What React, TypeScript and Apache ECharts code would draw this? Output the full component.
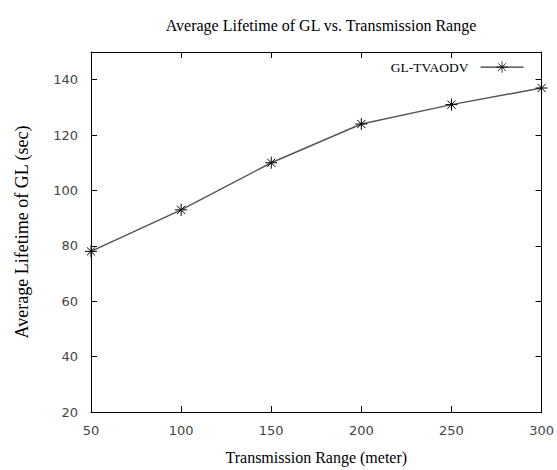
import React, { useEffect, useRef } from "react";
import * as echarts from "echarts";

const ranges = [50, 100, 150, 200, 250, 300];
const lifetimes = [78, 93, 110, 124, 131, 137];
const seriesName = "GL-TVAODV";
const titleText = "Average Lifetime of GL vs. Transmission Range";
const xName = "Transmission Range (meter)";
const yName = "Average Lifetime of GL (sec)";

const STAR = "path://M0,5L10,5M5,0L5,10M1.6,1.6L8.4,8.4M8.4,1.6L1.6,8.4";

export default function App() {
  const ref = useRef<HTMLDivElement>(null);
  useEffect(() => {
    if (!ref.current) return;
    document.body.style.margin = "0";
    const chart = echarts.init(ref.current, undefined, { renderer: "svg" });
    const serif = "'Liberation Serif', 'Times New Roman', serif";
    const sans = "'DejaVu Sans', sans-serif";
    const tickStyle = { show: true, inside: true, length: 6, lineStyle: { color: "#000", width: 1 } };
    chart.setOption({
      animation: false,
      backgroundColor: "#fff",
      title: {
        text: titleText,
        left: 316,
        textAlign: "center",
        top: 12,
        textStyle: { fontFamily: serif, fontSize: 16, fontWeight: "normal", color: "#000" },
      },
      legend: {
        data: [seriesName],
        top: 54,
        right: 28,
        align: "right",
        itemWidth: 43,
        itemHeight: 14,
        itemStyle: { color: "none", borderColor: "#000", borderWidth: 0.8 },
        lineStyle: { color: "#000", width: 1 },
        textStyle: { fontFamily: serif, fontSize: 13.5, color: "#000", padding: [0, 7, 0, 0] },
      },
      grid: { left: 91, right: 12, top: 52, bottom: 55 },
      xAxis: [
        {
          type: "value",
          min: 50,
          max: 300,
          interval: 50,
          name: xName,
          nameLocation: "middle",
          nameGap: 37,
          nameTextStyle: { fontFamily: serif, fontSize: 16, color: "#000" },
          axisLine: { show: true, lineStyle: { color: "#000", width: 1 } },
          axisTick: tickStyle,
          axisLabel: { fontFamily: sans, fontSize: 13, color: "#444", margin: 12 },
          splitLine: { show: false },
        },
        {
          type: "value",
          position: "top",
          min: 50,
          max: 300,
          interval: 50,
          axisLine: { show: true, lineStyle: { color: "#000", width: 1 } },
          axisTick: tickStyle,
          axisLabel: { show: false },
          splitLine: { show: false },
        },
      ],
      yAxis: [
        {
          type: "value",
          min: 20,
          max: 150,
          interval: 20,
          name: yName,
          nameLocation: "middle",
          nameGap: 60,
          nameTextStyle: { fontFamily: serif, fontSize: 18, color: "#000" },
          axisLine: { show: true, lineStyle: { color: "#000", width: 1 } },
          axisTick: tickStyle,
          axisLabel: {
            fontFamily: sans,
            fontSize: 13,
            color: "#444",
            margin: 13,
            formatter: (v: number) => (v === 150 ? "" : String(v)),
          },
          splitLine: { show: false },
        },
        {
          type: "value",
          position: "right",
          min: 20,
          max: 150,
          interval: 20,
          axisLine: { show: true, lineStyle: { color: "#000", width: 1 } },
          axisTick: tickStyle,
          axisLabel: { show: false },
          splitLine: { show: false },
        },
      ],
      series: [
        {
          name: seriesName,
          type: "line",
          data: ranges.map((r, i) => [r, lifetimes[i]]),
          symbol: STAR,
          symbolSize: 12,
          showAllSymbol: true,
          lineStyle: { color: "#555", width: 1.5 },
          itemStyle: { color: "none", borderColor: "#000", borderWidth: 1 },
          emphasis: { disabled: true },
        },
      ],
    });
    return () => chart.dispose();
  }, []);
  return <div ref={ref} style={{ width: 557, height: 470 }} />;
}
